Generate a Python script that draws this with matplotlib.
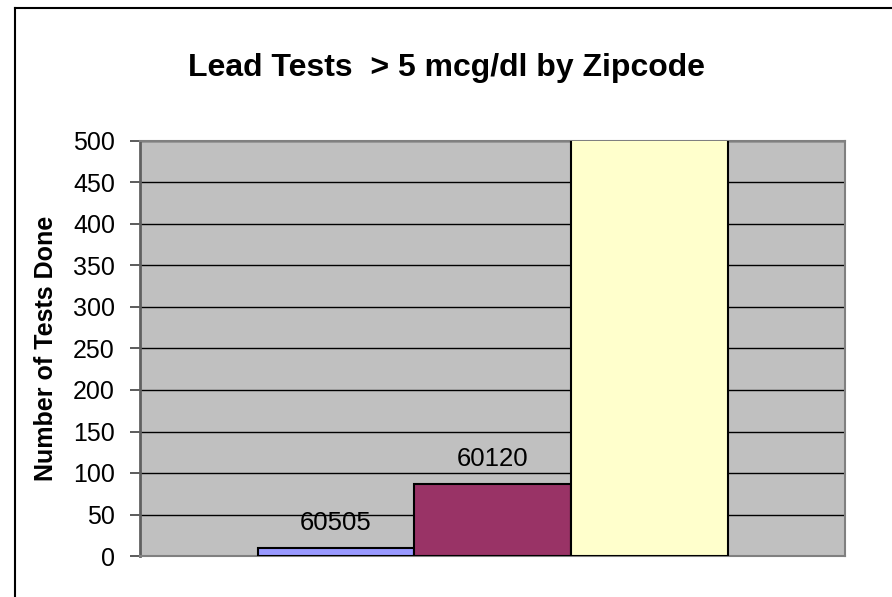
import matplotlib
matplotlib.use("Agg")
import matplotlib.pyplot as plt
from matplotlib.lines import Line2D

# data
zipcodes = ["60505", "60120", "60623"]
tests = [10, 87, 610]  # third bar runs past the 500 axis limit
colors = ["#9999FF", "#993366", "#FFFFCC"]
yticks = [0, 50, 100, 150, 200, 250, 300, 350, 400, 450, 500]

plt.rcParams['font.family'] = ['Liberation Sans', 'DejaVu Sans']

fig = plt.figure(figsize=(8.92, 5.97), dpi=100)
ax = fig.add_axes([140 / 892, 1 - 556 / 597, 705 / 892, 415 / 597])
ax.set_facecolor("#C0C0C0")

positions = list(range(-1, len(zipcodes) - 1))
bars = ax.bar(positions, tests, width=1.0, color=colors,
              edgecolor="black", linewidth=1.5, zorder=3)

# labels sit above each bar, clipped at the axes edge like in the original
for bar, label in zip(bars, zipcodes):
    ax.annotate(label, (bar.get_x() + bar.get_width() / 2, bar.get_height()),
                xytext=(0, 18), textcoords="offset points",
                ha="center", va="center", fontsize=18.5, annotation_clip=True,
                clip_on=True, zorder=4)

ax.set_xlim(-2.25, 2.25)
ax.set_ylim(0, 500)
ax.set_yticks(yticks)
ax.set_xticks([])
ax.yaxis.grid(True, color="black", linewidth=1.0, zorder=1)
ax.set_axisbelow(True)
ax.tick_params(axis="y", direction="out", length=7, width=1.2, color="#404040",
               labelsize=18, pad=11)

for side in ["top", "right", "bottom"]:
    ax.spines[side].set_color("#808080")
    ax.spines[side].set_linewidth(1.5)
ax.spines["left"].set_color("#606060")
ax.spines["left"].set_linewidth(2)

ax.set_ylabel("Number of Tests Done", fontsize=18, fontweight="bold")
ax.yaxis.set_label_coords((46 - 140) / 705, 0.5)
ax.yaxis.label.set_va("center")

fig.text(0.5, 1 - 68 / 597, "Lead Tests  > 5 mcg/dl by Zipcode",
         ha="center", va="center", fontsize=23, fontweight="bold")

# chart frame (only top and left edges fall inside the picture)
fig.add_artist(Line2D([15 / 892, 15 / 892], [0, 1 - 8 / 597],
                      transform=fig.transFigure, color="black", linewidth=1.5))
fig.add_artist(Line2D([15 / 892, 1], [1 - 8 / 597, 1 - 8 / 597],
                      transform=fig.transFigure, color="black", linewidth=1.5))

fig.savefig("out.png", dpi=100)
